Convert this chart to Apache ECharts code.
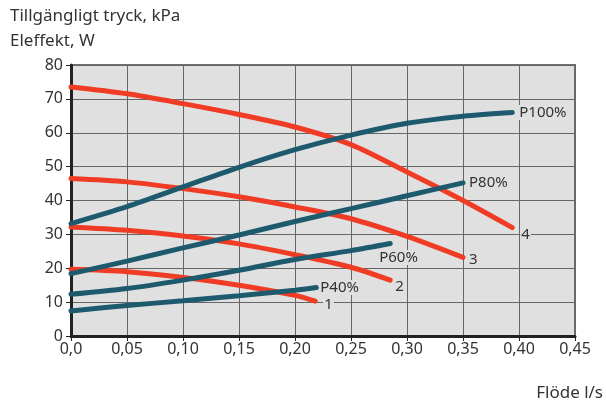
<!DOCTYPE html>
<html>
<head>
<meta charset="utf-8">
<script src="https://cdn.jsdelivr.net/npm/echarts@6/dist/echarts.min.js"></script>
<style>
  html, body { margin: 0; padding: 0; background: #fff; }
  #chart { width: 606px; height: 405px; }
</style>
</head>
<body>
<div id="chart"></div>
<script>
// Flow (l/s) vs available pressure (kPa) for pump curves 1-4,
// and electrical power (W) at pump speeds P40%..P100%.
const pressure1 = [[0, 19.7], [0.05, 19.0], [0.10, 17.3], [0.15, 15.0], [0.20, 12.0], [0.218, 10.3]];
const pressure2 = [[0, 32.2], [0.05, 31.2], [0.10, 29.5], [0.15, 27.2], [0.20, 24.0], [0.25, 20.3], [0.285, 16.5]];
const pressure3 = [[0, 46.5], [0.05, 45.5], [0.10, 43.5], [0.15, 41.1], [0.20, 38.1], [0.25, 34.6], [0.30, 29.4], [0.35, 23.2]];
const pressure4 = [[0, 73.5], [0.05, 71.5], [0.10, 68.6], [0.15, 65.4], [0.20, 61.7], [0.25, 56.5], [0.30, 48.4], [0.35, 40.0], [0.394, 32.0]];

const power40 = [[0, 7.4], [0.05, 9.0], [0.10, 10.4], [0.15, 11.9], [0.20, 13.5], [0.219, 14.3]];
const power60 = [[0, 12.3], [0.05, 14.0], [0.10, 16.5], [0.15, 19.4], [0.20, 22.6], [0.25, 25.2], [0.285, 27.3]];
const power80 = [[0, 18.4], [0.05, 22.1], [0.10, 26.0], [0.15, 29.8], [0.20, 33.8], [0.25, 37.6], [0.30, 41.4], [0.35, 45.2]];
const power100 = [[0, 33.2], [0.05, 38.2], [0.10, 44.0], [0.15, 49.8], [0.20, 55.0], [0.25, 59.3], [0.30, 62.8], [0.35, 64.9], [0.394, 66.0]];

const yTitle1 = 'Tillgängligt tryck, kPa';
const yTitle2 = 'Eleffekt, W';
const xTitle = 'Flöde l/s';

const RED = '#f03c24';
const BLUE = '#1e5a6e';
const TEXT = '#333333';
const FONT = 'Noto Sans';
const PLOT_BG = '#e0e0e0';

function curve(name, data, color, offset) {
  return {
    type: 'line',
    name: name,
    data: data,
    smooth: 0.3,
    showSymbol: false,
    silent: true,
    lineStyle: { color: color, width: 5, cap: 'round' },
    endLabel: {
      show: true,
      formatter: name,
      color: TEXT,
      fontFamily: FONT,
      fontSize: 15,
      offset: offset,
      backgroundColor: PLOT_BG,
      padding: [0, 1]
    },
    z: color === RED ? 3 : 4
  };
}

const chart = echarts.init(document.getElementById('chart'), null, { renderer: 'canvas' });
chart.setOption({
  animation: false,
  backgroundColor: '#ffffff',
  grid: {
    left: 71, right: 31, top: 65, bottom: 69,
    show: true,
    backgroundColor: PLOT_BG,
    borderColor: '#6e6e6e',
    borderWidth: 2
  },
  graphic: [
    { type: 'text', left: 10, top: 8, style: { text: yTitle1, fill: TEXT, font: '17px "' + FONT + '"' } },
    { type: 'text', left: 10, top: 33, style: { text: yTitle2, fill: TEXT, font: '17px "' + FONT + '"' } },
    { type: 'text', right: 3, top: 385, style: { text: xTitle, fill: TEXT, font: '17px "' + FONT + '"' } }
  ],
  xAxis: {
    type: 'value',
    min: 0, max: 0.45, interval: 0.05,
    axisLine: { show: true, onZero: false, lineStyle: { color: '#222', width: 3 } },
    axisTick: { show: true, length: 5, lineStyle: { color: '#222', width: 1 } },
    axisLabel: {
      color: TEXT, fontFamily: FONT, fontSize: 16, margin: 5,
      formatter: v => v === 0 ? '0,0' : v.toFixed(2).replace('.', ',')
    },
    splitLine: { show: true, lineStyle: { color: '#666', width: 1 } }
  },
  yAxis: {
    type: 'value',
    min: 0, max: 80, interval: 10,
    axisLine: { show: true, onZero: false, lineStyle: { color: '#222', width: 3 } },
    axisTick: { show: true, length: 5, lineStyle: { color: '#222', width: 1 } },
    axisLabel: { color: TEXT, fontFamily: FONT, fontSize: 16, margin: 8 },
    splitLine: { show: true, lineStyle: { color: '#666', width: 1 } }
  },
  series: [
    curve('1', pressure1, RED, [0, 4]),
    curve('2', pressure2, RED, [-4, 7]),
    curve('3', pressure3, RED, [-3, 2]),
    curve('4', pressure4, RED, [0, 7]),
    curve('P40%', power40, BLUE, [-5, 0]),
    curve('P60%', power60, BLUE, [-20, 14]),
    curve('P80%', power80, BLUE, [-3, 0]),
    curve('P100%', power100, BLUE, [-2, 0])
  ]
});
</script>
</body>
</html>
